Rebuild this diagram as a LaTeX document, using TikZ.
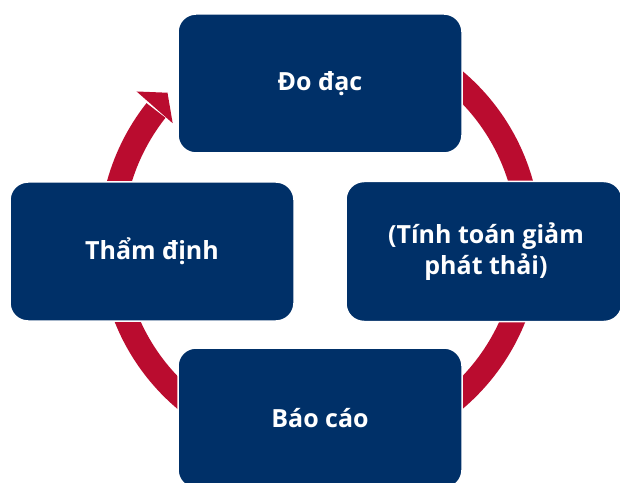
\documentclass[tikz,border=0pt]{standalone}
\usepackage{fontspec}
\setmainfont{Open Sans}
\definecolor{navy}{HTML}{003068}
\definecolor{ringred}{HTML}{BA0C2F}
\begin{document}
\begin{tikzpicture}[x=1pt,y=1pt,
  boxfont/.style={text=white, font=\bfseries\fontsize{25}{31}\selectfont, align=center},
  stagebox/.style={draw=white, line width=1.5pt, fill=navy, rounded corners=18pt,
    boxfont, inner sep=0pt}]
\useasboundingbox (0,0) rectangle (620,482);
% circular arrow
\begin{scope}[shift={(320,242)}]
  \coordinate (c) at (0,0);
  \draw[ringred, line width=24pt] (100:209pt) arc[start angle=100, end angle=-218.3, radius=209pt];
  \fill[ringred] (141:236pt) -- (136:212pt) -- (141.6:188pt) -- cycle;
\end{scope}
% boxes
\node[stagebox, minimum width=284pt, minimum height=139pt] (measure) at (320,398.5) {Đo đạc};
\node[stagebox, minimum width=284pt, minimum height=139pt] (verify) at (152,230.5) {Thẩm định};
\node[stagebox, minimum width=276pt, minimum height=140pt] (calc) at (484,230.5) {};
\node[boxfont] (calctext) at (486,230.5) {(Tính toán giảm\\phát thải)};
\node[stagebox, minimum width=284pt, minimum height=140pt] (report) at (320,64) {Báo cáo};
\end{tikzpicture}
\end{document}
